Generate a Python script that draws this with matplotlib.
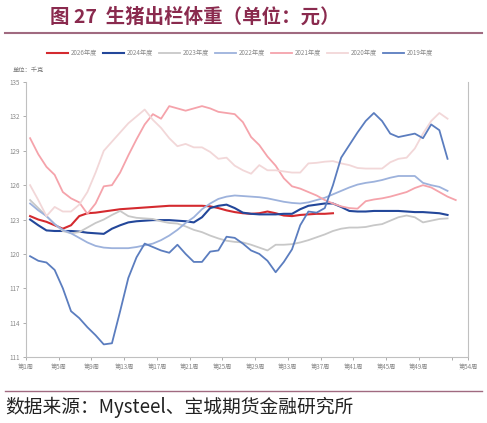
import numpy as np
import matplotlib.pyplot as plt

plt.rcParams['font.family'] = ['Noto Sans CJK SC', 'DejaVu Sans']

# weekly slaughter weight (kg)
w2026 = [123.3, 123.0, 122.8, 122.5, 122.2, 122.5, 123.3, 123.55, 123.6, 123.7,
         123.8, 123.9, 123.95, 124.0, 124.05, 124.1, 124.15, 124.2, 124.2, 124.2,
         124.2, 124.2, 124.15, 124.0, 123.8, 123.65, 123.55, 123.5, 123.55, 123.7,
         123.55, 123.35, 123.3, 123.4, 123.45, 123.5, 123.5, 123.55]
w2024 = [123.0, 122.5, 122.05, 122.0, 122.0, 122.0, 121.95, 121.85, 121.8, 121.75,
         122.2, 122.5, 122.75, 122.85, 122.9, 122.95, 122.95, 122.95, 122.9, 122.85,
         122.75, 123.2, 124.0, 124.2, 124.3, 124.0, 123.6, 123.5, 123.45, 123.45,
         123.45, 123.5, 123.5, 123.9, 124.2, 124.3, 124.4, 124.4, 124.1, 123.75,
         123.7, 123.7, 123.75, 123.75, 123.75, 123.75, 123.7, 123.65, 123.65, 123.6,
         123.55, 123.4]
w2023 = [124.7, 124.0, 123.3, 122.6, 122.0, 121.8, 121.9, 122.3, 122.7, 123.0,
         123.4, 123.75, 123.3, 123.15, 123.1, 123.05, 122.85, 122.7, 122.65, 122.4,
         122.1, 121.9, 121.6, 121.35, 121.15, 121.05, 121.0, 120.8, 120.55, 120.3,
         120.8, 120.8, 120.85, 121.0, 121.2, 121.45, 121.7, 122.0, 122.2, 122.3,
         122.3, 122.35, 122.5, 122.6, 122.9, 123.2, 123.35, 123.2, 122.75, 122.9,
         123.05, 123.1]
w2022 = [124.4, 123.8, 123.3, 122.6, 122.1, 121.8, 121.4, 121.0, 120.7, 120.55,
         120.5, 120.5, 120.5, 120.6, 120.75, 120.9, 121.2, 121.6, 122.1, 122.7,
         123.2, 123.9, 124.4, 124.8, 125.0, 125.1, 125.05, 125.0, 124.95, 124.85,
         124.7, 124.55, 124.45, 124.4, 124.5, 124.7, 124.9, 125.2, 125.5, 125.8,
         126.05, 126.2, 126.3, 126.45, 126.65, 126.8, 126.8, 126.8, 126.2, 126.0,
         125.85, 125.5]
w2021 = [130.1, 128.7, 127.6, 126.9, 125.4, 124.85, 124.5, 123.5, 124.4, 125.9,
         126.0, 127.1, 128.6, 130.0, 131.3, 132.2, 131.8, 132.9, 132.7, 132.5,
         132.7, 132.9, 132.7, 132.4, 132.3, 132.2, 131.5, 130.2, 129.5, 128.5,
         127.7, 126.6, 125.9, 125.7, 125.4, 125.1, 124.7, 124.4, 124.15, 124.0,
         123.95, 124.6, 124.75, 124.85, 125.0, 125.2, 125.4, 125.75, 126.0, 125.8,
         125.4, 125.0, 124.7]
w2020 = [126.0, 124.7, 123.3, 124.1, 123.7, 123.7, 124.3, 125.4, 127.1, 129.0,
         129.8, 130.6, 131.4, 132.0, 132.6, 131.7, 131.0, 130.1, 129.4, 129.6,
         129.3, 129.3, 128.9, 128.3, 128.4, 127.7, 127.3, 127.0, 127.75, 127.3,
         127.3, 127.2, 127.1, 127.1, 127.9, 127.95, 128.05, 128.1, 127.9, 127.75,
         127.5, 127.45, 127.45, 127.45, 128.0, 128.3, 128.4, 129.2, 130.5, 131.6,
         132.3, 131.8]
w2019 = [119.8, 119.4, 119.25, 118.6, 117.0, 115.0, 114.4, 113.6, 112.9, 112.1,
         112.2, 115.0, 117.9, 119.7, 120.9, 120.6, 120.3, 120.1, 120.8, 120.0,
         119.3, 119.3, 120.2, 120.3, 121.5, 121.4, 120.9, 120.3, 120.0, 119.4,
         118.4, 119.3, 120.4, 122.5, 123.7, 123.6, 124.0, 126.0, 128.4, 129.5,
         130.6, 131.6, 132.3, 131.6, 130.5, 130.2, 130.35, 130.5, 130.1, 131.3,
         130.8, 128.3]

series = [('2026年度', w2026, '#d42a2f', 1.5),
          ('2024年度', w2024, '#23479a', 1.5),
          ('2023年度', w2023, '#c8c8c8', 1.3),
          ('2022年度', w2022, '#9db2dc', 1.3),
          ('2021年度', w2021, '#f5a3ab', 1.3),
          ('2020年度', w2020, '#f2d7d8', 1.3),
          ('2019年度', w2019, '#5b7dbf', 1.3)]

tick_pos = [0.5 + 4 * i for i in range(13)] + [52.5, 54.5]
tick_lab = ['第%d周' % (1 + 4 * i) for i in range(13)] + ['', '第54周']
maroon = '#8a2a4e'
gray = '#a0a0a0'

fig = plt.figure(figsize=(4.87, 4.23), dpi=100)
ax = fig.add_axes([0.0534, 0.156, 0.9076, 0.650])

for name, vals, col, lw in series:
    x = np.arange(1, len(vals) + 1)
    ax.plot(x, vals, color=col, lw=lw, label=name, solid_joinstyle='round')

ax.set_xlim(0.5, 54.5)
ax.set_ylim(111, 135)
ax.set_yticks(np.arange(111, 136, 3))
ax.set_xticks(tick_pos)
ax.set_xticklabels(tick_lab)
ax.tick_params(axis='both', labelsize=4.5, colors=gray, length=2.5, width=0.6,
               pad=2, labelcolor='#888888')
ax.spines['top'].set_visible(False)
for s in ['left', 'bottom', 'right']:
    ax.spines[s].set_color('#c0c0c0')
    ax.spines[s].set_linewidth(0.8)

fig.legend(loc='center', bbox_to_anchor=(0.493, 1 - 53 / 423), ncol=7,
           frameon=False, fontsize=4.5, handlelength=3.3, columnspacing=1.0,
           handletextpad=0.45, labelcolor='#888888')

fig.text(0.025, 1 - 70 / 423, '单位：千克', fontsize=4.5, color='#777777', va='center')

# title and rules
fig.text(50 / 487, 1 - 17 / 423, '图 27  生猪出栏体重（单位：元）', fontsize=14,
         fontweight='bold', color=maroon, va='center')
fig.add_artist(plt.Line2D([5 / 487, 482 / 487], [1 - 33 / 423] * 2,
                          color='#a06a80', lw=1.5))
fig.add_artist(plt.Line2D([5 / 487, 482 / 487], [1 - 391 / 423] * 2,
                          color='#a06a80', lw=1.0))
fig.text(5 / 487, 1 - 407 / 423, '数据来源：Mysteel、宝城期货金融研究所', fontsize=13.5,
         color='#222222', va='center')

fig.savefig('out.png', dpi=100)
